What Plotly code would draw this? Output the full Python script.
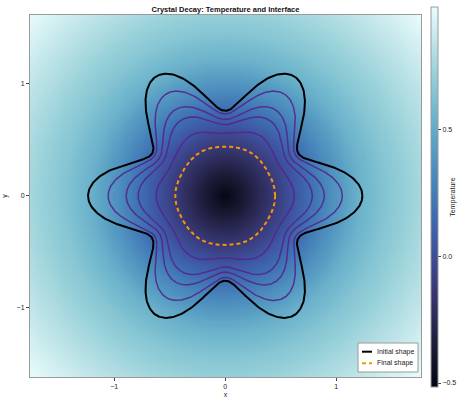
import numpy as np
import plotly.graph_objects as go

# ---- data ----
# radial temperature profile (distance from centre -> temperature)
profile_r = [0.0, 0.2, 0.45, 0.7, 0.95, 1.2, 1.45, 1.75, 2.1, 2.4]
profile_T = [-0.5, -0.35, -0.12, 0.11, 0.34, 0.53, 0.65, 0.76, 0.88, 0.985]

# interface snapshots: mean radius and 6-fold amplitude
snap_radius = [0.997, 0.892, 0.787, 0.710, 0.589, 0.445]
snap_amp = [0.238, 0.162, 0.105, 0.074, 0.033, 0.005]
lobes = 6

x_range = [-1.758, 1.763]
y_range = [-1.620, 1.616]
cb_ticks = [-0.5, 0.0, 0.5]
axis_ticks = [-1, 0, 1]
legend_labels = ["Initial shape", "Final shape"]

# ---- build field ----
xs = np.linspace(x_range[0], x_range[1], 360)
ys = np.linspace(y_range[0], y_range[1], 330)
XX, YY = np.meshgrid(xs, ys)
RR = np.hypot(XX, YY)
Z = np.interp(RR, profile_r, profile_T)

fig = go.Figure()
fig.add_trace(go.Heatmap(
    x=xs, y=ys, z=Z, colorscale="ice", zmin=-0.516, zmax=0.985,
    hoverinfo="skip", showlegend=False,
    colorbar=dict(
        x=1.0248, xanchor="left", xref="paper", xpad=0, ypad=0,
        y=0.497, yanchor="middle", len=380, lenmode="pixels", thickness=7,
        outlinewidth=1, outlinecolor="#9a9a9a",
        tickvals=cb_ticks, tickformat=".1f", ticks="outside", ticklen=3,
        tickcolor="#444", tickfont=dict(size=7, color="#222"),
        title=dict(text="Temperature", side="right", font=dict(size=7, color="#222")),
    ),
))

theta = np.linspace(0, 2 * np.pi, 721)
purple = "rgba(84,38,140,0.9)"
for i in range(1, len(snap_radius)):
    r = snap_radius[i] + snap_amp[i] * np.cos(lobes * theta)
    fig.add_trace(go.Scatter(x=r * np.cos(theta), y=r * np.sin(theta), mode="lines",
                             line=dict(color=purple, width=1.5), showlegend=False,
                             hoverinfo="skip"))

init_line = dict(color="black", width=2)
final_line = dict(color="#E69F00", width=2, dash="4px,3px")
r0 = snap_radius[0] + snap_amp[0] * np.cos(lobes * theta)
fig.add_trace(go.Scatter(x=r0 * np.cos(theta), y=r0 * np.sin(theta), mode="lines",
                         line=init_line, name=legend_labels[0], showlegend=False))
rf = snap_radius[-1] + snap_amp[-1] * np.cos(lobes * theta)
fig.add_trace(go.Scatter(x=rf * np.cos(theta), y=rf * np.sin(theta), mode="lines",
                         line=final_line, name=legend_labels[1], showlegend=False))

# ---- compact legend box (paper coordinates) ----
W, H = 391.0, 362.0  # plot area in px
def px(xp):
    return (xp - 30) / W
def py(yp):
    return (377 - yp) / H

fig.add_shape(type="rect", xref="paper", yref="paper",
              x0=px(358), x1=px(418), y0=py(372), y1=py(343),
              fillcolor="white", line=dict(color="#9a9a9a", width=1), layer="above")
for k, (lbl, ln) in enumerate(zip(legend_labels, [init_line, final_line])):
    yy = 351.7 + k * 11.6
    fig.add_shape(type="line", xref="paper", yref="paper",
                  x0=px(362), x1=px(372), y0=py(yy), y1=py(yy),
                  line=ln, layer="above")
    fig.add_annotation(text=lbl, xref="paper", yref="paper", x=px(375), y=py(yy),
                       xanchor="left", yanchor="middle", showarrow=False,
                       font=dict(size=7, color="#222"))

axis_common = dict(showgrid=False, zeroline=False, showline=True, mirror=True,
                   linecolor="#9a9a9a", linewidth=1, ticks="outside", ticklen=3,
                   tickcolor="#444", tickfont=dict(size=7, color="#222"))
fig.update_layout(
    width=469, height=398,
    margin=dict(l=30, r=48, t=15, b=21, autoexpand=False),
    paper_bgcolor="white", plot_bgcolor="white",
    font=dict(family="Liberation Sans, Arial, sans-serif", size=7, color="#222"),
    title=dict(text="<b>Crystal Decay: Temperature and Interface</b>",
               x=0.5, xref="paper", xanchor="center",
               y=1 - 9.5 / 398, yref="container", yanchor="middle",
               font=dict(size=7.5, color="#111")),
    xaxis=dict(range=x_range, tickvals=axis_ticks,
               title=dict(text="x", standoff=2, font=dict(size=7)), **axis_common),
    yaxis=dict(range=y_range, tickvals=axis_ticks,
               title=dict(text="y", standoff=8, font=dict(size=7)), **axis_common),
    showlegend=False,
)

fig.write_html("out.html")
